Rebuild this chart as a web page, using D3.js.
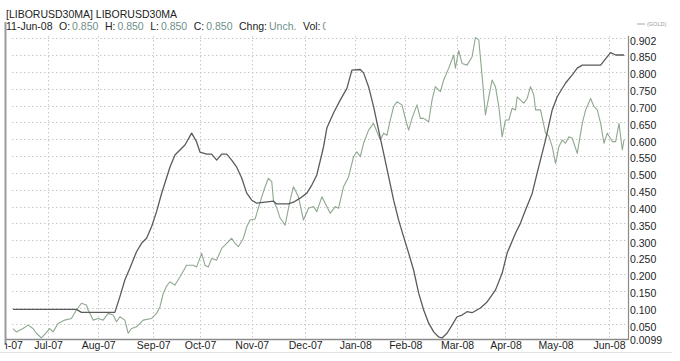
<!DOCTYPE html>
<html><head><meta charset="utf-8">
<script src="https://cdn.jsdelivr.net/npm/d3@7"></script>
<style>body{margin:0;background:#fff}svg{display:block;font-family:Arial,"Liberation Sans",sans-serif}</style>
</head><body><svg id="c" width="680" height="361"></svg>
<script>
// ---- data ----
const liborDates = ["2007-06-11","2007-07-19","2007-07-22","2007-08-11","2007-08-14","2007-08-17","2007-08-20","2007-08-24","2007-08-27","2007-08-30","2007-09-02","2007-09-05","2007-09-08","2007-09-10","2007-09-13","2007-09-16","2007-09-19","2007-09-22","2007-09-26","2007-09-29","2007-10-01","2007-10-05","2007-10-08","2007-10-11","2007-10-14","2007-10-17","2007-10-20","2007-10-23","2007-10-26","2007-10-29","2007-11-01","2007-11-04","2007-11-14","2007-11-16","2007-11-23","2007-11-26","2007-11-30","2007-12-04","2007-12-07","2007-12-10","2007-12-14","2007-12-16","2007-12-20","2007-12-24","2007-12-28","2007-12-31","2008-01-05","2008-01-07","2008-01-10","2008-01-13","2008-01-16","2008-01-19","2008-01-22","2008-01-25","2008-01-28","2008-01-31","2008-02-03","2008-02-06","2008-02-09","2008-02-12","2008-02-15","2008-02-18","2008-02-21","2008-02-23","2008-02-26","2008-02-29","2008-03-03","2008-03-06","2008-03-09","2008-03-12","2008-03-17","2008-03-21","2008-03-26","2008-03-30","2008-04-02","2008-04-07","2008-04-10","2008-04-13","2008-04-17","2008-04-20","2008-04-25","2008-04-29","2008-05-02","2008-05-07","2008-05-11","2008-05-14","2008-05-17","2008-05-28","2008-06-01","2008-06-03","2008-06-06","2008-06-11"];
const liborValues = [0.095,0.095,0.086,0.086,0.132,0.182,0.217,0.266,0.291,0.306,0.340,0.385,0.439,0.470,0.517,0.553,0.568,0.583,0.618,0.592,0.562,0.556,0.556,0.538,0.556,0.556,0.538,0.517,0.485,0.440,0.419,0.410,0.416,0.408,0.408,0.413,0.425,0.440,0.464,0.494,0.577,0.633,0.678,0.716,0.751,0.805,0.807,0.797,0.756,0.697,0.627,0.559,0.489,0.419,0.360,0.310,0.262,0.211,0.143,0.093,0.054,0.028,0.013,0.0099,0.024,0.048,0.073,0.078,0.088,0.085,0.099,0.117,0.152,0.202,0.262,0.321,0.351,0.390,0.439,0.500,0.598,0.687,0.726,0.767,0.791,0.811,0.820,0.820,0.845,0.857,0.850,0.850];

const goldDates = ["2007-06-11","2007-06-13","2007-06-17","2007-06-20","2007-06-23","2007-06-25","2007-06-28","2007-06-30","2007-07-03","2007-07-05","2007-07-08","2007-07-12","2007-07-16","2007-07-19","2007-07-22","2007-07-25","2007-07-26","2007-07-29","2007-08-01","2007-08-04","2007-08-07","2007-08-10","2007-08-12","2007-08-14","2007-08-17","2007-08-19","2007-08-21","2007-08-24","2007-08-28","2007-09-02","2007-09-05","2007-09-07","2007-09-09","2007-09-11","2007-09-13","2007-09-16","2007-09-19","2007-09-23","2007-09-27","2007-09-29","2007-10-02","2007-10-04","2007-10-06","2007-10-08","2007-10-11","2007-10-14","2007-10-17","2007-10-20","2007-10-22","2007-10-24","2007-10-27","2007-10-29","2007-10-31","2007-11-03","2007-11-05","2007-11-07","2007-11-09","2007-11-11","2007-11-13","2007-11-14","2007-11-16","2007-11-18","2007-11-21","2007-11-24","2007-11-26","2007-11-29","2007-12-02","2007-12-05","2007-12-08","2007-12-10","2007-12-13","2007-12-16","2007-12-18","2007-12-21","2007-12-23","2007-12-26","2007-12-29","2008-01-01","2008-01-03","2008-01-05","2008-01-07","2008-01-10","2008-01-13","2008-01-15","2008-01-17","2008-01-19","2008-01-21","2008-01-23","2008-01-25","2008-01-27","2008-01-30","2008-02-01","2008-02-03","2008-02-05","2008-02-08","2008-02-10","2008-02-12","2008-02-15","2008-02-17","2008-02-19","2008-02-22","2008-02-24","2008-02-27","2008-03-01","2008-03-02","2008-03-04","2008-03-06","2008-03-09","2008-03-12","2008-03-14","2008-03-16","2008-03-18","2008-03-20","2008-03-22","2008-03-24","2008-03-26","2008-03-28","2008-03-30","2008-04-01","2008-04-03","2008-04-05","2008-04-07","2008-04-08","2008-04-10","2008-04-12","2008-04-14","2008-04-16","2008-04-18","2008-04-19","2008-04-22","2008-04-25","2008-04-27","2008-04-29","2008-05-01","2008-05-03","2008-05-05","2008-05-07","2008-05-09","2008-05-11","2008-05-14","2008-05-17","2008-05-19","2008-05-22","2008-05-24","2008-05-26","2008-05-28","2008-05-30","2008-06-01","2008-06-04","2008-06-06","2008-06-08","2008-06-10","2008-06-11"];
const goldValues = [0.038,0.028,0.038,0.048,0.038,0.024,0.010,0.021,0.038,0.028,0.053,0.063,0.068,0.093,0.113,0.108,0.093,0.063,0.068,0.063,0.083,0.078,0.058,0.073,0.063,0.024,0.038,0.043,0.063,0.068,0.083,0.102,0.142,0.164,0.177,0.167,0.191,0.226,0.226,0.221,0.261,0.226,0.221,0.246,0.241,0.276,0.291,0.306,0.291,0.281,0.306,0.340,0.360,0.363,0.396,0.429,0.459,0.484,0.474,0.419,0.396,0.366,0.345,0.419,0.459,0.429,0.360,0.395,0.400,0.385,0.429,0.400,0.380,0.400,0.395,0.459,0.488,0.548,0.563,0.548,0.588,0.627,0.647,0.622,0.598,0.618,0.612,0.657,0.697,0.711,0.702,0.662,0.627,0.662,0.702,0.662,0.662,0.652,0.716,0.756,0.741,0.776,0.811,0.850,0.811,0.863,0.825,0.820,0.845,0.902,0.895,0.788,0.672,0.726,0.776,0.756,0.697,0.607,0.657,0.657,0.692,0.687,0.726,0.716,0.707,0.721,0.756,0.731,0.687,0.687,0.618,0.609,0.578,0.528,0.578,0.598,0.588,0.607,0.603,0.558,0.647,0.687,0.721,0.697,0.687,0.647,0.588,0.618,0.593,0.593,0.647,0.568,0.598];

const yTicks = [0.0099,0.05,0.1,0.15,0.2,0.25,0.3,0.35,0.4,0.45,0.5,0.55,0.6,0.65,0.7,0.75,0.8,0.85,0.902];
const yTickLabels = ["0.0099","0.050","0.100","0.150","0.200","0.250","0.300","0.350","0.400","0.450","0.500","0.550","0.600","0.650","0.700","0.750","0.800","0.850","0.902"];
const monthTicks = ["2007-06-07","2007-07-02","2007-08-01","2007-09-03","2007-10-01","2007-11-01","2007-12-03","2008-01-02","2008-02-01","2008-03-03","2008-04-01","2008-05-01","2008-06-02"];
const monthLabels = ["Jun-07","Jul-07","Aug-07","Sep-07","Oct-07","Nov-07","Dec-07","Jan-08","Feb-08","Mar-08","Apr-08","May-08","Jun-08"];
const headerTitle = "[LIBORUSD30MA] LIBORUSD30MA";
const headerDate = "11-Jun-08";
const headerFields = [["O:","0.850"],["H:","0.850"],["L:","0.850"],["C:","0.850"],["Chng:","Unch."],["Vol:","0"]];
const legendLabel = "(GOLD)";

// ---- drawing ----
const parse = d3.timeParse("%Y-%m-%d");
const svg = d3.select("#c");
const x = d3.scaleTime().domain([parse("2007-06-11"), parse("2008-06-11")]).range([13, 624]);
const y = d3.scaleLinear().domain([0.0099, 0.902]).range([338, 37.5]);
const plotL = 6, plotR = 628, plotT = 36, plotB = 339;
const defs = svg.append("defs");

defs.append("clipPath").attr("id", "xclip")
  .append("rect").attr("x", 5).attr("y", 300).attr("width", 680).attr("height", 61);

// gridlines
const grid = svg.append("g").attr("stroke", "#c8c8c8").attr("stroke-width", 1).attr("stroke-dasharray", "1.5,2.5");
grid.selectAll("line.h").data(yTicks.slice(1)).join("line")
  .attr("x1", plotL + 6).attr("x2", plotR - 1)
  .attr("y1", d => Math.round(y(d)) + 0.5).attr("y2", d => Math.round(y(d)) + 0.5);
grid.selectAll("line.v").data(monthTicks.slice(1)).join("line")
  .attr("x1", d => Math.round(x(parse(d))) + 0.5).attr("x2", d => Math.round(x(parse(d))) + 0.5)
  .attr("y1", plotT).attr("y2", plotB - 1);

// frame
svg.append("line").attr("x1", 5.5).attr("x2", 5.5).attr("y1", 22).attr("y2", plotB + 6).attr("stroke", "#9a9a9a").attr("stroke-width", 2);
svg.append("line").attr("x1", plotL).attr("x2", plotR).attr("y1", plotB + 0.5).attr("y2", plotB + 0.5).attr("stroke", "#8a8a8a").attr("stroke-width", 1.5);
svg.append("line").attr("x1", plotR + 0.5).attr("x2", plotR + 0.5).attr("y1", plotT).attr("y2", plotB + 1).attr("stroke", "#8a8a8a").attr("stroke-width", 1.2);
svg.append("line").attr("x1", 0).attr("x2", 672).attr("y1", 352.5).attr("y2", 352.5).attr("stroke", "#e2e2e2").attr("stroke-width", 1);

// y axis labels
const yAxis = d3.axisRight(y).tickValues(yTicks).tickSize(0).tickPadding(2)
  .tickFormat((d, i) => yTickLabels[i]);
const ya = svg.append("g").attr("transform", `translate(${plotR},0)`).call(yAxis);
ya.select(".domain").remove();
ya.selectAll("text").attr("font-size", 10.5).attr("fill", "#1e1e1e").attr("font-family", "Arial, 'Liberation Sans', sans-serif")
  .attr("dy", (d, i) => i === yTicks.length - 1 ? "0.62em" : "0.55em");

// x axis labels
const xAxis = d3.axisBottom(x).tickValues(monthTicks.map(parse)).tickSize(0).tickPadding(3)
  .tickFormat((d, i) => monthLabels[i]);
const xa = svg.append("g").attr("clip-path", "url(#xclip)").append("g").attr("transform", `translate(0,${plotB})`).call(xAxis);
xa.select(".domain").remove();
xa.selectAll("text").attr("font-size", 10.5).attr("fill", "#1e1e1e").attr("font-family", "Arial, 'Liberation Sans', sans-serif");

// series
const libor = liborDates.map((d, i) => ({ date: parse(d), v: liborValues[i] }));
const gold = goldDates.map((d, i) => ({ date: parse(d), v: goldValues[i] }));
const line = d3.line().x(d => x(d.date)).y(d => y(d.v));
svg.append("path").datum(gold).attr("d", line).attr("fill", "none").attr("stroke", "#8fa88f").attr("stroke-width", 1.1).attr("stroke-linejoin", "round");
svg.append("path").datum(libor).attr("d", line).attr("fill", "none").attr("stroke", "#5b5b5b").attr("stroke-width", 1.3).attr("stroke-linejoin", "round");

// header
svg.append("text").attr("x", 6).attr("y", 18).attr("font-size", 10.5).attr("fill", "#222").text(headerTitle);
const hclip = defs.append("clipPath").attr("id", "hclip").append("rect").attr("x", 0).attr("y", 20).attr("height", 14).attr("width", 680);
const h2 = svg.append("g").attr("clip-path", "url(#hclip)")
  .append("text").attr("x", 6).attr("y", 30).attr("font-size", 10.5).attr("fill", "#222");
h2.append("tspan").text(headerDate);
headerFields.forEach(([k, v]) => {
  h2.append("tspan").attr("dx", 6.5).attr("fill", "#222").text(k);
  h2.append("tspan").attr("dx", 2).attr("fill", "#6f8f8a").text(v);
});
// the volume figure is half hidden in the original header
{
  const node = h2.node();
  const n = node.getNumberOfChars();
  const s = node.getStartPositionOfChar(n - 1).x, e = node.getEndPositionOfChar(n - 1).x;
  hclip.attr("width", s + (e - s) * 0.55);
}

// legend
const lg = svg.append("g").attr("transform", "translate(637,24)");
lg.append("line").attr("x1", 0).attr("x2", 8).attr("y1", 0).attr("y2", 0).attr("stroke", "#9aaa9a").attr("stroke-width", 1);
lg.append("text").attr("x", 10).attr("y", 2).attr("font-size", 5.5).attr("fill", "#9a9a9a").text(legendLabel);
</script></body></html>
